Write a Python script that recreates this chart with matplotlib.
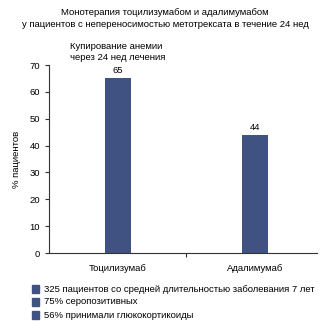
import matplotlib
matplotlib.use('Agg')
import matplotlib.pyplot as plt
from matplotlib.patches import Rectangle

plt.rcParams['font.family'] = ['Liberation Sans', 'DejaVu Sans']

categories = ['Тоцилизумаб', 'Адалимумаб']
values = [65, 44]
yticks = [0, 10, 20, 30, 40, 50, 60, 70]
notes = ['325 пациентов со средней длительностью заболевания 7 лет',
         '75% серопозитивных',
         '56% принимали глюкокортикоиды']

bar_color = '#3f5282'
fs = 6.8

fig = plt.figure(figsize=(3.3, 3.3), dpi=100)
ax = fig.add_axes([0.1485, 0.2333, 0.8121, 0.5697])

x = range(len(categories))
ax.bar(x, values, width=0.19, color=bar_color)
for xi, v in zip(x, values):
    ax.text(xi, v + 1.2, str(v), ha='center', va='bottom', fontsize=fs)

ax.set_xlim(-0.5, 1.45)
ax.set_ylim(0, 70)
ax.set_yticks(yticks)
ax.set_xticks([0.5])
ax.set_xticklabels([''])
ax.tick_params(axis='both', labelsize=fs, length=3, width=0.8, color='#333333')
ax.tick_params(axis='x', pad=0)
for xi, c in zip(x, categories):
    ax.text(xi, -4.2, c, ha='center', va='top', fontsize=fs)
ax.spines['top'].set_visible(False)
ax.spines['right'].set_visible(False)
for s in ['left', 'bottom']:
    ax.spines[s].set_color('#333333')
    ax.spines[s].set_linewidth(0.8)
ax.set_ylabel('% пациентов', fontsize=fs, labelpad=6)

fig.text(0.5, 0.943, 'Монотерапия тоцилизумабом и адалимумабом\nу пациентов с непереносимостью метотрексата в течение 24 нед',
         ha='center', va='center', fontsize=fs, linespacing=1.45)
fig.text(0.212, 0.843, 'Купирование анемии\nчерез 24 нед лечения', ha='left', va='center',
         fontsize=fs, linespacing=1.3)

for i, n in enumerate(notes):
    yy = 1 - (289 + 13 * i) / 330
    fig.patches.append(Rectangle((32 / 330, yy - 0.011), 0.022, 0.022, transform=fig.transFigure,
                                 color=bar_color, figure=fig))
    fig.text(44 / 330, yy, n, ha='left', va='center', fontsize=fs)

fig.savefig('out.png', dpi=100)
